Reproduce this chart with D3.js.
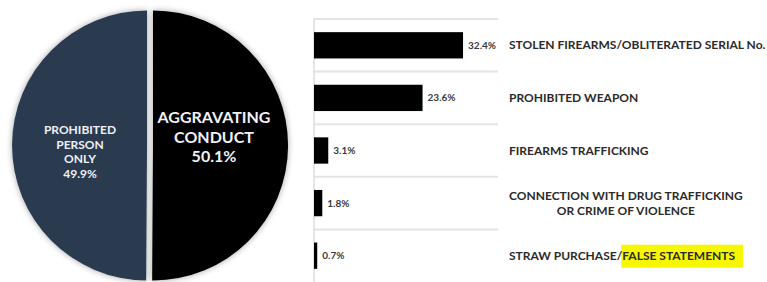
<!DOCTYPE html>
<html>
<head>
<meta charset="utf-8">
<script src="https://cdn.jsdelivr.net/npm/d3@7/dist/d3.min.js"></script>
<style>
  html, body { margin: 0; padding: 0; background: #fff; }
  svg { display: block; font-family: Lato, "Open Sans", sans-serif; }
</style>
</head>
<body>
<svg id="chart" width="767" height="282"></svg>
<script>
// ---- data ----
const pieLabels = [["AGGRAVATING", "CONDUCT"], ["PROHIBITED", "PERSON", "ONLY"]];
const pieValues = [50.1, 49.9];
const pieColors = ["#000000", "#2a3a50"];

const barCategories = [
  "STOLEN FIREARMS/OBLITERATED SERIAL No.",
  "PROHIBITED WEAPON",
  "FIREARMS TRAFFICKING",
  "CONNECTION WITH DRUG TRAFFICKING|OR CRIME OF VIOLENCE",
  "STRAW PURCHASE/|FALSE STATEMENTS"
];
const barValues = [32.4, 23.6, 3.1, 1.8, 0.7];

// ---- setup ----
const svg = d3.select("#chart");
const defs = svg.append("defs");
const f = defs.append("filter").attr("id", "shadow")
  .attr("x", "-20%").attr("y", "-20%").attr("width", "140%").attr("height", "140%");
f.append("feDropShadow").attr("dx", 0).attr("dy", 0)
  .attr("stdDeviation", 3).attr("flood-color", "#000").attr("flood-opacity", 0.35);

// ---- pie ----
const cx = 150, cy = 145.5, R = 135, explode = 3;
const pie = d3.pie().sort(null).value(d => d)(pieValues);
const arc = d3.arc().innerRadius(0).outerRadius(R);
const gPie = svg.append("g").attr("transform", `translate(${cx},${cy})`);

pie.forEach((p, i) => {
  const mid = (p.startAngle + p.endAngle) / 2;
  const dx = Math.sin(mid) * explode, dy = -Math.cos(mid) * explode;
  gPie.append("path")
    .attr("d", arc(p))
    .attr("transform", `translate(${dx},${dy})`)
    .attr("fill", pieColors[i])
    .attr("filter", "url(#shadow)");
});

// Pie labels
const bigLab = gPie.append("text")
  .attr("text-anchor", "middle").attr("fill", "#f2f2f8")
  .attr("font-weight", "bold").attr("font-size", 16);
[...pieLabels[0], d3.format(".1f")(pieValues[0]) + "%"].forEach((t, i) => {
  bigLab.append("tspan").attr("x", 214 - cx).attr("y", 123 - cy + i * 19.5).text(t);
});
const smallLab = gPie.append("text")
  .attr("text-anchor", "middle").attr("fill", "#eef0f6")
  .attr("font-weight", "bold").attr("font-size", 12);
[...pieLabels[1], d3.format(".1f")(pieValues[1]) + "%"].forEach((t, i) => {
  smallLab.append("tspan").attr("x", 80 - cx).attr("y", 134 - cy + i * 14.7).text(t);
});

// ---- bars ----
const x = d3.scaleLinear().domain([0, 40]).range([314, 498]);
const y = d3.scaleBand().domain(barCategories).range([19, 282])
  .paddingInner(0.5).paddingOuter(0.25);
const step = y.step();
const y0 = 19;

const gBar = svg.append("g");
// gridlines
d3.range(barCategories.length).forEach(i => {
  gBar.append("line")
    .attr("x1", x(0)).attr("x2", x(40))
    .attr("y1", y0 + i * step).attr("y2", y0 + i * step)
    .attr("stroke", "#e4e4e4").attr("stroke-width", 2);
});
// axis line
gBar.append("line")
  .attr("x1", x(0)).attr("x2", x(0))
  .attr("y1", y0).attr("y2", 282)
  .attr("stroke", "#dcdcdc").attr("stroke-width", 1.5);

gBar.selectAll("rect.bar").data(barValues).join("rect")
  .attr("class", "bar")
  .attr("x", x(0)).attr("y", (d, i) => y(barCategories[i]))
  .attr("width", d => x(d) - x(0)).attr("height", y.bandwidth())
  .attr("fill", "#000");

gBar.selectAll("text.val").data(barValues).join("text")
  .attr("class", "val")
  .attr("x", d => x(d) + 5)
  .attr("y", (d, i) => y(barCategories[i]) + y.bandwidth() / 2 + 3.5)
  .attr("font-size", 10).attr("font-weight", "bold").attr("fill", "#3a3a3a")
  .text(d => d3.format(".1f")(d) + "%");

// category labels
const labX = 509, FS = 12;
barCategories.forEach((c, i) => {
  const mid = y(c) + y.bandwidth() / 2;
  const parts = c.split("|");
  if (i === 3) {
    const t = gBar.append("text").attr("font-size", FS).attr("font-weight", "bold")
      .attr("fill", "#2b2b2b").attr("text-anchor", "middle");
    const first = t.append("tspan").attr("x", labX).attr("y", mid - 3).text(parts[0]);
    const w = first.node().getComputedTextLength();
    first.attr("x", labX + w / 2);
    t.append("tspan").attr("x", labX + w / 2).attr("y", mid + 12).text(parts[1]);
  } else if (i === 4) {
    const t = gBar.append("text").attr("font-size", FS).attr("font-weight", "bold")
      .attr("fill", "#2b2b2b").attr("x", labX).attr("y", mid + 4);
    const a = t.append("tspan").text(parts[0]);
    const wa = a.node().getComputedTextLength();
    const tmp = gBar.append("text").attr("font-size", FS).attr("font-weight", "bold").text(parts[1]);
    const wb = tmp.node().getComputedTextLength();
    tmp.remove();
    gBar.insert("rect", "text")
      .attr("x", labX + wa - 1).attr("y", mid - 11)
      .attr("width", wb + 9).attr("height", 23)
      .attr("fill", "#f7f700");
    t.raise();
    t.append("tspan").text(parts[1]);
  } else {
    gBar.append("text").attr("font-size", FS).attr("font-weight", "bold")
      .attr("fill", "#2b2b2b").attr("x", labX).attr("y", mid + 4).text(parts[0]);
  }
});
</script>
</body>
</html>
